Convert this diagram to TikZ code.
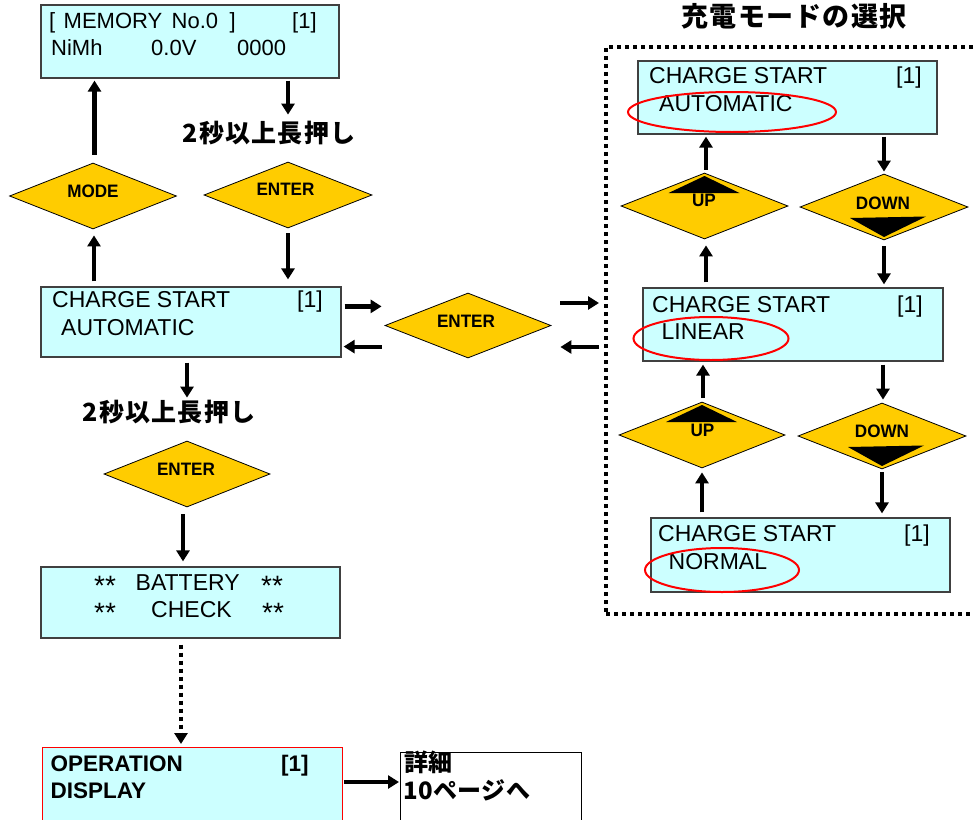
\documentclass[tikz,border=0pt]{standalone}
\usepackage{fontspec}
\setmainfont{Liberation Sans}
\newfontfamily\boxfont{Liberation Sans}
\newfontfamily\btnfont[FakeStretch=0.95]{Liberation Sans}
\newfontfamily\jp{Noto Sans CJK JP}
\usetikzlibrary{arrows.meta,shapes.geometric,calc}
\definecolor{lcdcyan}{HTML}{CCFFFF}
\definecolor{btnyellow}{HTML}{FFCC00}
\begin{document}
\begin{tikzpicture}[x=1pt,y=-1pt,
 lcd/.style={rectangle, draw=black!75, line width=1.2pt, fill=lcdcyan, inner sep=0pt},
 dia/.style={diamond, draw=black, line width=0.8pt, fill=btnyellow, inner sep=0pt, minimum width=167pt, minimum height=66pt},
 arr/.style={line width=4.2pt, -{Triangle[width=13pt,length=11pt]}},
 darr/.style={arr, dash pattern=on 4pt off 4pt},
 txt/.style={anchor=base west, inner sep=0pt, font=\boxfont\fontsize{23}{26}\selectfont},
 stxt/.style={anchor=base west, inner sep=0pt, font=\boxfont\fontsize{22}{26}\selectfont},
 btxt/.style={anchor=base west, inner sep=0pt, font=\bfseries\fontsize{22.5}{26}\selectfont},
 btn/.style={inner sep=0pt, font=\btnfont\bfseries\fontsize{18}{20}\selectfont},
 jptxt/.style={inner sep=0pt, font=\jp\bfseries\fontsize{25}{28}\selectfont\addfontfeature{LetterSpace=5}},
 jptitle/.style={inner sep=0pt, font=\jp\bfseries\fontsize{27}{30}\selectfont\addfontfeature{LetterSpace=4.5}},
 jpbox/.style={anchor=base west, inner sep=0pt, font=\jp\bfseries\fontsize{24}{27}\selectfont\addfontfeature{LetterSpace=2}},
 oval/.style={ellipse, draw=red, line width=2pt, inner sep=0pt},
 tri/.style={fill=black},
 ast/.style={anchor=base west, inner sep=0pt, font=\fontsize{28}{28}\selectfont},
]
\useasboundingbox (0,0) rectangle (974,819);
\clip (0,0) rectangle (974,819);

% dotted frame
\node[draw, line width=4pt, dash pattern=on 4pt off 4pt, minimum width=420pt, minimum height=567pt, inner sep=0pt, anchor=north west] (frame) at (604,45) {};
\node[jptitle] (title) at (794,16) {充電モードの選択};

% left boxes
\node[lcd, minimum width=298pt, minimum height=73pt] (box1) at (190,41.5) {};
\node[lcd, minimum width=300pt, minimum height=70pt] (box2) at (191,322) {};
\node[lcd, minimum width=299pt, minimum height=71pt] (box3) at (190.5,602.5) {};
\node[rectangle, draw=red, line width=1pt, fill=lcdcyan, inner sep=0pt, minimum width=300pt, minimum height=90pt, anchor=north west] (box4) at (42,747) {};
\node[rectangle, draw=black, line width=1.3pt, fill=white, inner sep=0pt, minimum width=181pt, minimum height=90pt, anchor=north west] (box5) at (400,752) {};

% right boxes
\node[lcd, minimum width=299pt, minimum height=73pt] (r1) at (787.5,97.5) {};
\node[lcd, minimum width=300pt, minimum height=73pt] (r2) at (793,324.5) {};
\node[lcd, minimum width=299pt, minimum height=74pt] (r3) at (800.5,555) {};

% diamonds
\node[dia] (mode) at (93,196) {};
\node[dia, minimum width=168pt] (enter1) at (288,195) {};
\node[dia, minimum width=166pt, minimum height=65pt] (enter2) at (468,325.5) {};
\node[dia, minimum width=166pt] (enter3) at (187,474) {};
\node[dia] (up1) at (704.5,206) {};
\node[dia, minimum width=168pt] (down1) at (884,207) {};
\node[dia, minimum width=166pt] (up2) at (702,435) {};
\node[dia, minimum width=168pt] (down2) at (882,436) {};

% black triangles
\fill[tri] ($(up1.center)+(0,-30)$) -- ($(up1.center)+(-36,-13)$) -- ($(up1.center)+(35,-13)$) -- cycle;
\fill[tri] ($(up2.center)+(0,-30)$) -- ($(up2.center)+(-36,-13)$) -- ($(up2.center)+(35,-13)$) -- cycle;
\fill[tri] ($(down1.center)+(0,30)$) -- ($(down1.center)+(-34,11)$) -- ($(down1.center)+(42,9.5)$) -- cycle;
\fill[tri] ($(down2.center)+(0,30)$) -- ($(down2.center)+(-34,11)$) -- ($(down2.center)+(42,9.5)$) -- cycle;

% button labels
\node[btn] (tmode) at (93,191) {MODE};
\node[btn] (tent1) at (285.5,189.5) {ENTER};
\node[btn] (tent2) at (466,321.5) {ENTER};
\node[btn] (tent3) at (186,469.5) {ENTER};
\node[btn] (tup1) at (704,200.5) {UP};
\node[btn] (tdn1) at (883,203) {DOWN};
\node[btn] (tup2) at (702.5,430) {UP};
\node[btn] (tdn2) at (882,431.5) {DOWN};

% box texts
\node[stxt] (b1a) at (49,28) {[};
\node[stxt] (b1b) at (63.5,28) {MEMORY};
\node[stxt] (b1c) at (171.5,28) {No.0};
\node[stxt] (b1d) at (229.5,28) {]};
\node[stxt] (b1e) at (292,28) {[1]};
\node[stxt] (b1f) at (51,55) {NiMh};
\node[stxt] (b1g) at (151,55) {0.0V};
\node[stxt] (b1h) at (237,55) {0000};

\node[txt] (b2a) at (52,307) {CHARGE START};
\node[txt] (b2b) at (297,307) {[1]};
\node[txt] (b2c) at (61,335) {AUTOMATIC};

\node[ast] (b3a) at (94,595) {**};
\node[txt] (b3b) at (135.5,590) {BATTERY};
\node[ast] (b3c) at (261,595) {**};
\node[ast] (b3d) at (94,622) {**};
\node[txt] (b3e) at (151,617) {CHECK};
\node[ast] (b3f) at (262,622) {**};

\node[btxt] (b4a) at (50.5,771) {OPERATION};
\node[btxt] (b4b) at (281,771) {[1]};
\node[btxt] (b4c) at (50.5,798) {DISPLAY};

\node[jpbox] (b5a) at (404,771) {詳細};
\node[jpbox] (b5b) at (403,799) {10ページへ};

\node[txt] (r1a) at (649,83) {CHARGE START};
\node[txt] (r1b) at (896,83) {[1]};
\node[txt] (r1c) at (659,111) {AUTOMATIC};
\node[txt] (r2a) at (652,312) {CHARGE START};
\node[txt] (r2b) at (897,312) {[1]};
\node[txt] (r2c) at (661.5,339) {LINEAR};
\node[txt] (r3a) at (658,541) {CHARGE START};
\node[txt] (r3b) at (904,541) {[1]};
\node[txt] (r3c) at (668.5,569) {NORMAL};

% red ovals
\node[oval, minimum width=208pt, minimum height=40pt] (o1) at (732,112) {};
\node[oval, minimum width=155pt, minimum height=43pt] (o2) at (711,338.5) {};
\node[oval, minimum width=154pt, minimum height=44pt] (o3) at (722,570) {};

% long-press labels
\node[jptxt] (lbl1) at (269,133.5) {2秒以上長押し};
\node[jptxt] (lbl2) at (169,412.5) {2秒以上長押し};

% arrows left column
\draw[arr] ($(mode.north)+(1.5,-8)$) -- ($(box1.south -| mode.north)+(1.5,2)$);
\draw[arr] ($(box1.south -| enter1.north)+(0,2)$) -- ($(box1.south -| enter1.north)+(0,36)$);
\draw[arr] ($(enter1.south)+(0,5)$) -- ($(box2.north -| enter1.south)+(0,-7)$);
\draw[arr] ($(box2.north -| mode.south)+(1,-5)$) -- ($(mode.south)+(1,6)$);
\draw[arr] ($(box2.north east)+(3,20)$) -- ($(enter2.west |- box2.north east)+(-3,20)$);
\draw[arr] ($(enter2.west |- box2.south east)+(-3,-11)$) -- ($(box2.south east)+(2,-11)$);
\draw[arr] ($(enter2.east |- frame.north west)+(9,258)$) -- ($(frame.north west)+(-5,258)$);
\draw[arr] ($(frame.north west)+(-5,302)$) -- ($(enter2.east |- frame.north west)+(9,302)$);
\draw[arr] ($(box2.south)+(-4,5)$) -- ($(box2.south)+(-4,40)$);
\draw[arr] ($(enter3.south)+(-4,7)$) -- ($(box3.north -| enter3.south)+(-4,-5)$);
\draw[darr] ($(box3.south)+(-9.5,6)$) -- ($(box4.north -| box3.south)+(-9.5,-3)$);
\draw[arr] ($(box4.north east)+(1,35)$) -- ($(box5.west |- box4.north east)+(-1,35)$);

% arrows right column
\draw[arr] ($(up1.north)+(1.5,-3)$) -- ($(r1.south -| up1.north)+(1.5,2)$);
\draw[arr] ($(r1.south -| down1.north)+(0,2)$) -- ($(down1.north)+(0,-2)$);
\draw[arr] ($(r2.north -| up1.south)+(1.5,-5)$) -- ($(up1.south)+(1.5,6)$);
\draw[arr] ($(down1.south)+(0,6)$) -- ($(r2.north -| down1.south)+(0,-3)$);
\draw[arr] ($(up2.north)+(1,-4)$) -- ($(r2.south -| up2.north)+(1,3)$);
\draw[arr] ($(r2.south -| down2.north)+(1,3)$) -- ($(down2.north)+(1,-3)$);
\draw[arr] ($(r3.north -| up2.south)+(0,-5)$) -- ($(up2.south)+(0,4)$);
\draw[arr] ($(down2.south)+(0,3)$) -- ($(r3.north -| down2.south)+(0,-4)$);
\end{tikzpicture}
\end{document}
